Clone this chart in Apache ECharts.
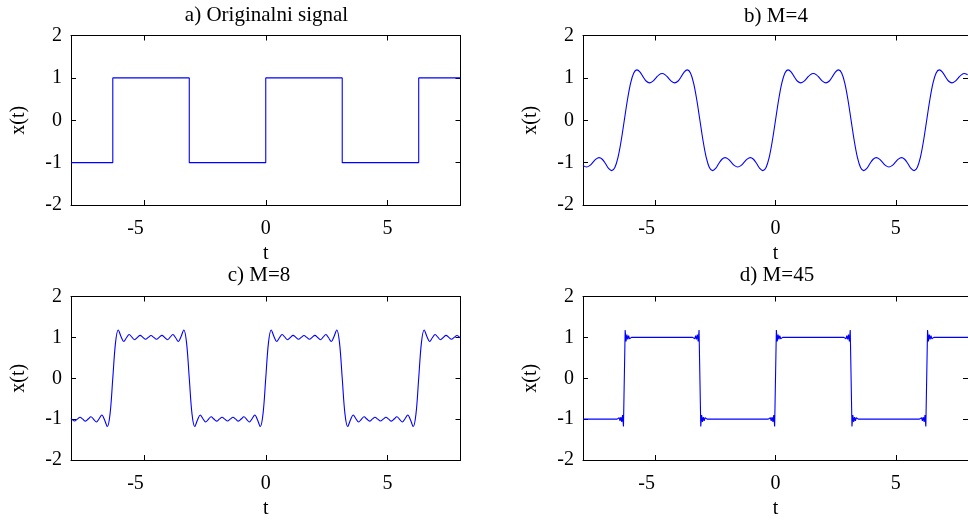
<!DOCTYPE html>
<html>
<head>
<meta charset="utf-8">
<script src="https://cdn.jsdelivr.net/npm/echarts@6/dist/echarts.min.js"></script>
<style>
html,body{margin:0;padding:0;background:#fff;}
#chart{width:968px;height:520px;}
</style>
</head>
<body>
<div id="chart"></div>
<script>
// ---- data ----
var panelTitles = ['a) Originalni signal', 'b) M=4', 'c) M=8', 'd) M=45'];
var xTickValues = [-5, 0, 5];
var yTickValues = [-2, -1, 0, 1, 2];

// a) original square signal
var tA = [-8, -6.2832, -6.2832, -3.1416, -3.1416, 0, 0, 3.1416, 3.1416, 6.2832, 6.2832, 8];
var yA = [-1, -1, 1, 1, -1, -1, 1, 1, -1, -1, 1, 1];

// b) M=4
var tB = [-8,-7.9849,-7.8540,-7.7231,-7.5922,-7.4613,-7.3304,-7.1995,-7.0686,-6.9377,-6.8068,-6.6759,-6.5450,-6.4141,
-6.2832,-6.1523,-6.0214,-5.8905,-5.7596,-5.6287,-5.4978,-5.3669,-5.2360,-5.1051,-4.9742,-4.8433,-4.7124,-4.5815,-4.4506,-4.3197,-4.1888,-4.0579,-3.9270,-3.7961,-3.6652,-3.5343,-3.4034,-3.2725,
-3.1416,-3.0107,-2.8798,-2.7489,-2.6180,-2.4871,-2.3562,-2.2253,-2.0944,-1.9635,-1.8326,-1.7017,-1.5708,-1.4399,-1.3090,-1.1781,-1.0472,-0.9163,-0.7854,-0.6545,-0.5236,-0.3927,-0.2618,-0.1309,
0,0.1309,0.2618,0.3927,0.5236,0.6545,0.7854,0.9163,1.0472,1.1781,1.3090,1.4399,1.5708,1.7017,1.8326,1.9635,2.0944,2.2253,2.3562,2.4871,2.6180,2.7489,2.8798,3.0107,
3.1416,3.2725,3.4034,3.5343,3.6652,3.7961,3.9270,4.0579,4.1888,4.3197,4.4506,4.5815,4.7124,4.8433,4.9742,5.1051,5.2360,5.3669,5.4978,5.6287,5.7596,5.8905,6.0214,6.1523,
6.2832,6.4141,6.5450,6.6759,6.8068,6.9377,7.0686,7.1995,7.3304,7.4613,7.5922,7.7231,7.8540,7.9849,8];
var yB = [-1.065,
-1.072,-1.103,-1.072,-0.996,-0.916,-0.882,-0.920,-1.020,-1.134,-1.188,-1.115,-0.876,-0.484,
0,0.484,0.876,1.115,1.188,1.134,1.020,0.920,0.882,0.916,0.996,1.072,1.103,1.072,0.996,0.916,0.882,0.920,1.020,1.134,1.188,1.115,0.876,0.484,
0,-0.484,-0.876,-1.115,-1.188,-1.134,-1.020,-0.920,-0.882,-0.916,-0.996,-1.072,-1.103,-1.072,-0.996,-0.916,-0.882,-0.920,-1.020,-1.134,-1.188,-1.115,-0.876,-0.484,
0,0.484,0.876,1.115,1.188,1.134,1.020,0.920,0.882,0.916,0.996,1.072,1.103,1.072,0.996,0.916,0.882,0.920,1.020,1.134,1.188,1.115,0.876,0.484,
0,-0.484,-0.876,-1.115,-1.188,-1.134,-1.020,-0.920,-0.882,-0.916,-0.996,-1.072,-1.103,-1.072,-0.996,-0.916,-0.882,-0.920,-1.020,-1.134,-1.188,-1.115,-0.876,-0.484,
0,0.484,0.876,1.115,1.188,1.134,1.020,0.920,0.882,0.916,0.996,1.072,1.103,1.072,
1.065];

// c) M=8
var tC = [-8,-7.9662,-7.8540,-7.7418,-7.6296,-7.5174,-7.4052,-7.2930,-7.1808,-7.0686,-6.9564,-6.8442,-6.7320,-6.6198,-6.5076,-6.3954,
-6.2832,-6.1710,-6.0588,-5.9466,-5.8344,-5.7222,-5.6100,-5.4978,-5.3856,-5.2734,-5.1612,-5.0490,-4.9368,-4.8246,-4.7124,-4.6002,-4.4880,-4.3758,-4.2636,-4.1514,-4.0392,-3.9270,-3.8148,-3.7026,-3.5904,-3.4782,-3.3660,-3.2538,
-3.1416,-3.0294,-2.9172,-2.8050,-2.6928,-2.5806,-2.4684,-2.3562,-2.2440,-2.1318,-2.0196,-1.9074,-1.7952,-1.6830,-1.5708,-1.4586,-1.3464,-1.2342,-1.1220,-1.0098,-0.8976,-0.7854,-0.6732,-0.5610,-0.4488,-0.3366,-0.2244,-0.1122,
0,0.1122,0.2244,0.3366,0.4488,0.5610,0.6732,0.7854,0.8976,1.0098,1.1220,1.2342,1.3464,1.4586,1.5708,1.6830,1.7952,1.9074,2.0196,2.1318,2.2440,2.3562,2.4684,2.5806,2.6928,2.8050,2.9172,3.0294,
3.1416,3.2538,3.3660,3.4782,3.5904,3.7026,3.8148,3.9270,4.0392,4.1514,4.2636,4.3758,4.4880,4.6002,4.7124,4.8246,4.9368,5.0490,5.1612,5.2734,5.3856,5.4978,5.6100,5.7222,5.8344,5.9466,6.0588,6.1710,
6.2832,6.3954,6.5076,6.6198,6.7320,6.8442,6.9564,7.0686,7.1808,7.2930,7.4052,7.5174,7.6296,7.7418,7.8540,7.9662,8];
var yC = [-0.979,
-1.000,-1.045,-1.000,-0.954,-1.001,-1.050,-0.998,-0.942,-1.004,-1.072,-0.991,-0.899,-1.023,-1.181,-0.873,
0,0.873,1.181,1.023,0.899,0.991,1.072,1.004,0.942,0.998,1.050,1.001,0.954,1.000,1.045,1.000,0.954,1.001,1.050,0.998,0.942,1.004,1.072,0.991,0.899,1.023,1.181,0.873,
0,-0.873,-1.181,-1.023,-0.899,-0.991,-1.072,-1.004,-0.942,-0.998,-1.050,-1.001,-0.954,-1.000,-1.045,-1.000,-0.954,-1.001,-1.050,-0.998,-0.942,-1.004,-1.072,-0.991,-0.899,-1.023,-1.181,-0.873,
0,0.873,1.181,1.023,0.899,0.991,1.072,1.004,0.942,0.998,1.050,1.001,0.954,1.000,1.045,1.000,0.954,1.001,1.050,0.998,0.942,1.004,1.072,0.991,0.899,1.023,1.181,0.873,
0,-0.873,-1.181,-1.023,-0.899,-0.991,-1.072,-1.004,-0.942,-0.998,-1.050,-1.001,-0.954,-1.000,-1.045,-1.000,-0.954,-1.001,-1.050,-0.998,-0.942,-1.004,-1.072,-0.991,-0.899,-1.023,-1.181,-0.873,
0,0.873,1.181,1.023,0.899,0.991,1.072,1.004,0.942,0.998,1.050,1.001,0.954,1.000,1.045,1.000,
0.979];

// d) M=45
var tD = [-8,
-6.5832,-6.4974,-6.4617,-6.4260,-6.3903,-6.3546,-6.3189,-6.2832,-6.2475,-6.2118,-6.1761,-6.1404,-6.1047,-6.0690,-5.9832,
-3.4416,-3.3558,-3.3201,-3.2844,-3.2487,-3.2130,-3.1773,-3.1416,-3.1059,-3.0702,-3.0345,-2.9988,-2.9631,-2.9274,-2.8416,
-0.3,-0.2142,-0.1785,-0.1428,-0.1071,-0.0714,-0.0357,0,0.0357,0.0714,0.1071,0.1428,0.1785,0.2142,0.3,
2.8416,2.9274,2.9631,2.9988,3.0345,3.0702,3.1059,3.1416,3.1773,3.2130,3.2487,3.2844,3.3201,3.3558,3.4416,
5.9832,6.0690,6.1047,6.1404,6.1761,6.2118,6.2475,6.2832,6.3189,6.3546,6.3903,6.4260,6.4617,6.4974,6.5832,
8];
var yD = [-1,
-1,-0.966,-1.040,-0.950,-1.066,-0.903,-1.179,0,1.179,0.903,1.066,0.950,1.040,0.966,1,
1,0.966,1.040,0.950,1.066,0.903,1.179,0,-1.179,-0.903,-1.066,-0.950,-1.040,-0.966,-1,
-1,-0.966,-1.040,-0.950,-1.066,-0.903,-1.179,0,1.179,0.903,1.066,0.950,1.040,0.966,1,
1,0.966,1.040,0.950,1.066,0.903,1.179,0,-1.179,-0.903,-1.066,-0.950,-1.040,-0.966,-1,
-1,-0.966,-1.040,-0.950,-1.066,-0.903,-1.179,0,1.179,0.903,1.066,0.950,1.040,0.966,1,
1];

// ---- chart ----
var FONT = '"Liberation Serif", "Times New Roman", serif';
var grids = [
  {left: 71, top: 35.5, width: 389.5, height: 169.5},
  {left: 583, top: 35.5, width: 389.5, height: 169.5},
  {left: 71, top: 296.5, width: 389.5, height: 168},
  {left: 583, top: 296.5, width: 389.5, height: 168}
];
var titlePos = [[266.5, 15], [776, 16], [259, 275], [777, 275]];

function zip(t, y) { return t.map(function (v, i) { return [v, y[i]]; }); }

var xAxes = [], yAxes = [], series = [], graphics = [];
var lineCol = '#000';
grids.forEach(function (g, i) {
  xAxes.push({
    gridIndex: i, type: 'value', min: -8, max: 8, position: 'bottom',
    axisLine: {show: true, onZero: false, lineStyle: {color: lineCol, width: 1}},
    axisTick: {show: true, inside: true, length: 5, customValues: xTickValues, lineStyle: {color: lineCol}},
    axisLabel: {
      show: true, customValues: xTickValues, margin: 14, color: '#000', fontFamily: FONT, fontSize: 20,
      formatter: function (v) { return v < 0 ? '{neg|' + v + '}' : String(v); },
      rich: {neg: {fontFamily: FONT, fontSize: 20, color: '#000', padding: [0, 17, 0, 0]}}
    },
    splitLine: {show: false},
    name: 't', nameLocation: 'middle', nameGap: 39,
    nameTextStyle: {color: '#000', fontFamily: FONT, fontSize: 20}
  });
  xAxes.push({
    gridIndex: i, type: 'value', min: -8, max: 8, position: 'top',
    axisLine: {show: true, onZero: false, lineStyle: {color: lineCol, width: 1}},
    axisTick: {show: true, inside: true, length: 5, customValues: xTickValues, lineStyle: {color: lineCol}},
    axisLabel: {show: false}, splitLine: {show: false}
  });
  yAxes.push({
    gridIndex: i, type: 'value', min: -2, max: 2, interval: 1, position: 'left',
    axisLine: {show: true, onZero: false, lineStyle: {color: lineCol, width: 1}},
    axisTick: {show: true, inside: true, length: 5, lineStyle: {color: lineCol}},
    axisLabel: {show: true, margin: 9, color: '#000', fontFamily: FONT, fontSize: 20},
    splitLine: {show: false},
    name: 'x(t)', nameLocation: 'middle', nameGap: 42, nameRotate: 90,
    nameTextStyle: {color: '#000', fontFamily: FONT, fontSize: 20}
  });
  yAxes.push({
    gridIndex: i, type: 'value', min: -2, max: 2, interval: 1, position: 'right',
    axisLine: {show: true, onZero: false, lineStyle: {color: lineCol, width: 1}},
    axisTick: {show: true, inside: true, length: 5, lineStyle: {color: lineCol}},
    axisLabel: {show: false}, splitLine: {show: false}
  });
  graphics.push({
    type: 'text', x: titlePos[i][0], y: titlePos[i][1],
    style: {text: panelTitles[i], fill: '#000', font: '21px ' + FONT, textAlign: 'center', textVerticalAlign: 'middle'}
  });
});

var datasets = [zip(tA, yA), zip(tB, yB), zip(tC, yC), zip(tD, yD)];
var smooths = [false, 0.35, 0.35, false];
datasets.forEach(function (d, i) {
  series.push({
    type: 'line', xAxisIndex: i * 2, yAxisIndex: i * 2, data: d,
    showSymbol: false, symbol: 'none', smooth: smooths[i], clip: true,
    lineStyle: {color: '#0000ff', width: 1.1}, animation: false
  });
});

var chart = echarts.init(document.getElementById('chart'), null, {renderer: 'canvas'});
chart.setOption({
  animation: false,
  backgroundColor: '#fff',
  grid: grids.map(function (g) { return Object.assign({containLabel: false}, g); }),
  xAxis: xAxes, yAxis: yAxes, series: series, graphic: graphics
});
</script>
</body>
</html>
